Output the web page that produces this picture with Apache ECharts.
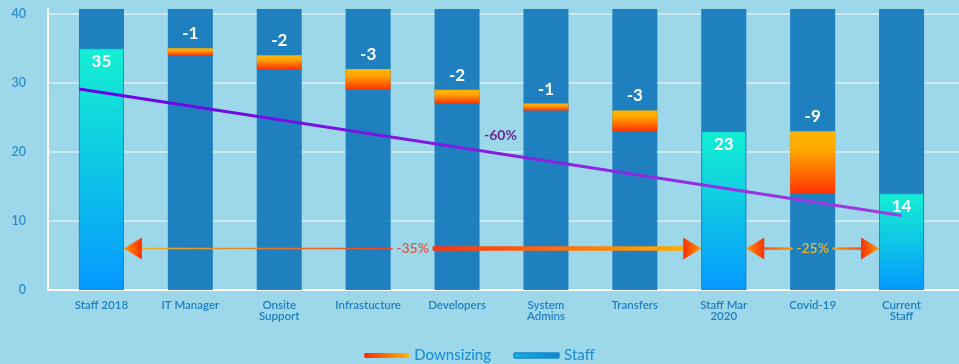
<!DOCTYPE html>
<html>
<head>
<meta charset="utf-8">
<script src="https://cdn.jsdelivr.net/npm/echarts@6/dist/echarts.min.js"></script>
<style>
  html, body { margin: 0; padding: 0; background: #9dd7ea; }
  #chart { width: 959px; height: 364px; }
</style>
</head>
<body>
<div id="chart"></div>
<script>
// Headcount walk: starting staff, reductions by area, staff totals
const categories = ['Staff 2018', 'IT Manager', 'Onsite\nSupport', 'Infrastucture', 'Developers',
  'System\nAdmins', 'Transfers', 'Staff Mar\n2020', 'Covid-19', 'Current\nStaff'];
const staff   = [35, null, null, null, null, null, null, 23, null, 14];
const changes = [null, -1, -2, -3, -2, -1, -3, null, -9, null];

// Overall trend from the 2018 level to the current level
const trendLine = [[-0.25, 29.1], [9, 10.8]];
const trendLabel = '-60%';

// Period comparisons: [from category, to category, level]
const periods = [[0, 7, 6], [7, 9, 6]];
const periodLabels = ['-35%', '-25%'];

// Floating waterfall pieces derived from the totals and changes
const base = [], drop = [];
let running = null;
for (let i = 0; i < categories.length; i++) {
  if (staff[i] != null) { running = staff[i]; base.push(null); drop.push(null); }
  else if (changes[i] != null) {
    running += changes[i];
    base.push(running);
    drop.push({ value: Math.abs(changes[i]), delta: changes[i] });
  } else { base.push(null); drop.push(null); }
}

const FONT = 'Lato';
const BAR_W = 45;
const Y_MAX = 40.7;

const periodStyles = [
  { left: 1.5, right: 4.5, leftColors: ['#e8b224', '#e8452c'], rightColors: ['#ff3010', '#ffac00'], text: '#e5553b', textHalf: 20 },
  { left: 2.5, right: 2.5, leftColors: ['#ff4a14', '#ff9c0a'], rightColors: ['#ff9c0a', '#ff4a14'], text: '#f0b52c', textHalf: 20 }
];

function hGrad(c0, c1) {
  return { type: 'linear', x: 0, y: 0, x2: 1, y2: 0, colorStops: [{ offset: 0, color: c0 }, { offset: 1, color: c1 }] };
}

function renderPeriod(params, api) {
  const i = params.dataIndex;
  const st = periodStyles[i];
  const v = api.value(2);
  const p0 = api.coord([api.value(0), v]);
  const p1 = api.coord([api.value(1), v]);
  const y = p0[1];
  const half = BAR_W / 2;
  const headW = 18, headH = 22;
  const lTip = p0[0] + half, rTip = p1[0] - half;
  const lBase = lTip + headW, rBase = rTip - headW;
  const mid = (p0[0] + p1[0]) / 2;
  const children = [
    { type: 'rect', shape: { x: lBase, y: y - st.left / 2, width: mid - st.textHalf - lBase, height: st.left },
      style: { fill: hGrad(st.leftColors[0], st.leftColors[1]) } },
    { type: 'rect', shape: { x: mid + st.textHalf, y: y - st.right / 2, width: rBase - mid - st.textHalf, height: st.right },
      style: { fill: hGrad(st.rightColors[0], st.rightColors[1]) } },
    { type: 'polygon', shape: { points: [[lTip, y], [lBase, y - headH / 2], [lBase, y + headH / 2]] },
      style: { fill: hGrad('#ff9a00', '#ff2e00') } },
    { type: 'polygon', shape: { points: [[rTip, y], [rBase, y - headH / 2], [rBase, y + headH / 2]] },
      style: { fill: hGrad('#ff2e00', '#ff9a00') } },
    { type: 'text', style: { text: periodLabels[i], x: mid, y: y, align: 'center', verticalAlign: 'middle',
      fill: st.text, font: '600 14px ' + FONT } }
  ];
  return { type: 'group', children: children };
}

const trendMid = [(trendLine[0][0] + trendLine[1][0]) / 2, (trendLine[0][1] + trendLine[1][1]) / 2];

const chart = echarts.init(document.getElementById('chart'));
chart.setOption({
  animation: false,
  backgroundColor: '#9dd7ea',
  grid: [
    { left: 48, right: 0, top: 9, bottom: 74 },
    { left: 57, right: 13, top: 9, bottom: 74 }
  ],
  legend: {
    top: 343, left: 'center',
    icon: 'roundRect', itemWidth: 45, itemHeight: 5, itemGap: 22,
    textStyle: { color: '#1e8fd5', fontSize: 15, fontFamily: FONT, fontWeight: 500 },
    data: [
      { name: 'Downsizing', itemStyle: { color: hGrad('#ff2a00', '#ffb800') } },
      { name: 'Staff', itemStyle: { color: hGrad('#1cb0e2', '#0a84cc') } }
    ]
  },
  xAxis: [
    { gridIndex: 0, type: 'value', min: 0, max: 1, axisLabel: { show: false }, axisTick: { show: false },
      splitLine: { show: false }, axisLine: { show: true, lineStyle: { color: '#ffffff', width: 2 } } },
    { gridIndex: 1, type: 'category', data: categories, axisLine: { show: false }, axisTick: { show: false },
      axisLabel: { margin: 10, color: '#1f7fc0', fontSize: 11.5, fontFamily: FONT, fontWeight: 600, lineHeight: 11, interval: 0 } },
    { gridIndex: 1, type: 'value', min: -0.5, max: 9.5, show: false }
  ],
  yAxis: [
    { gridIndex: 0, type: 'value', min: 0, max: Y_MAX, interval: 10,
      axisLine: { show: true, lineStyle: { color: '#ffffff', width: 2 } }, axisTick: { show: false },
      axisLabel: { margin: 22, color: '#2b8fca', fontSize: 12.5, fontFamily: FONT, fontWeight: 600, showMaxLabel: false },
      splitLine: { show: true, showMinLine: false, showMaxLine: false, lineStyle: { color: 'rgba(255,255,255,0.6)', width: 1.5 } } },
    { gridIndex: 1, type: 'value', min: 0, max: Y_MAX, show: false, splitLine: { show: false } }
  ],
  series: [
    {
      name: 'base', type: 'bar', xAxisIndex: 1, yAxisIndex: 1, stack: 'w', barWidth: BAR_W,
      data: base, itemStyle: { color: 'transparent' },
      showBackground: true, backgroundStyle: { color: 'rgba(20,120,187,0.92)' },
      silent: true
    },
    {
      name: 'Downsizing', type: 'bar', xAxisIndex: 1, yAxisIndex: 1, stack: 'w', barWidth: BAR_W,
      data: drop,
      itemStyle: { color: { type: 'linear', x: 0, y: 0, x2: 0, y2: 1, colorStops: [
        { offset: 0, color: '#ffb400' }, { offset: 0.3, color: '#ffa800' }, { offset: 1, color: '#ff3400' }] } },
      label: { show: true, position: 'top', distance: 6, color: '#ffffff', fontSize: 17, fontWeight: 'bold', fontFamily: FONT,
        formatter: p => String(p.data.delta) }
    },
    {
      name: 'Staff', type: 'bar', xAxisIndex: 1, yAxisIndex: 1, stack: 'w', barWidth: BAR_W,
      data: staff,
      itemStyle: { borderColor: 'rgba(24,140,200,0.8)', borderWidth: 1,
        color: { type: 'linear', x: 0, y: 0, x2: 0, y2: 1, colorStops: [
          { offset: 0, color: '#14efd2' }, { offset: 0.5, color: '#0ec6e6' }, { offset: 1, color: '#0598ff' }] } },
      label: { show: true, position: 'insideTop', distance: 5, color: '#ffffff', fontSize: 17, fontWeight: 'bold', fontFamily: FONT }
    },
    {
      name: 'Trend', type: 'line', xAxisIndex: 2, yAxisIndex: 1, data: trendLine, symbol: 'none', z: 5,
      lineStyle: { width: 3, color: hGrad('#6600e6', '#a23de0') },
      markPoint: {
        symbol: 'circle', symbolSize: 1, itemStyle: { color: 'transparent' },
        label: { show: true, position: 'inside', offset: [10, -17], color: '#6a2a92', fontSize: 14, fontWeight: 'bold', fontFamily: FONT,
          formatter: trendLabel },
        data: [{ coord: trendMid }]
      }
    },
    {
      name: 'Periods', type: 'custom', xAxisIndex: 1, yAxisIndex: 1, z: 6,
      encode: { x: [0, 1], y: 2 },
      data: periods, renderItem: renderPeriod
    }
  ]
});
</script>
</body>
</html>
